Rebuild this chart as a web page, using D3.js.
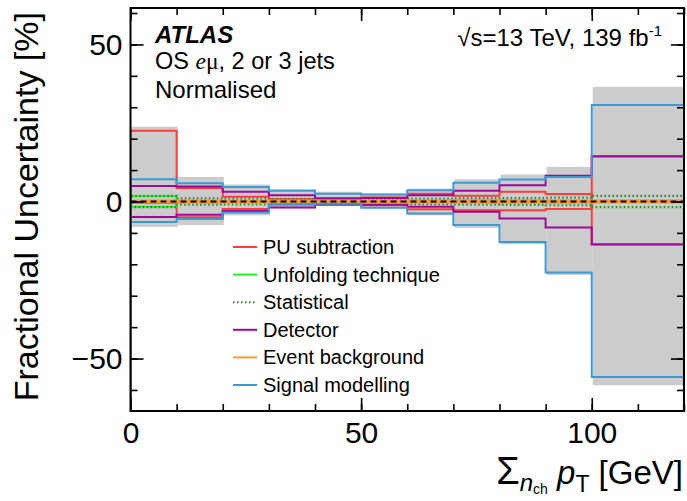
<!DOCTYPE html>
<html>
<head>
<meta charset="utf-8">
<script src="https://cdn.jsdelivr.net/npm/d3@7"></script>
<style>
  html, body { margin: 0; padding: 0; background: #fff; }
  svg { display: block; font-family: "Liberation Sans", Arial, Helvetica, sans-serif; }
</style>
</head>
<body>
<svg id="chart" width="687" height="501"></svg>
<script>
// Bin edges of the charged-particle sum pT distribution [GeV]
const binEdges = [0, 10, 20, 30, 40, 50, 60, 70, 80, 90, 100, 120];

// Total uncertainty band [%]
const totalUp   = [23.8, 7.8, 5.4, 3.9, 3.1, 2.5, 4.1, 7.1, 8.6, 11.0, 36.5];
const totalDown = [-8.1, -7.5, -4.4, -2.2, -1.0, -2.2, -4.4, -8.4, -13.6, -23.4, -58.5];

// Individual components, up / down variations [%]
const puUp        = [22.5, 4.3, 1.5, 0.8, 0.5, 1.3, 2.5, 1.8, 3.1, 2.4, -13.6];
const puDown      = [-0.5, -5.0, -2.4, -0.8, -0.5, -1.2, -2.5, -2.8, -2.8, -2.4, 14.3];
const unfoldUp    = [1.7, 0.3, 0.2, 0.2, 0.2, 0.2, 0.3, 0.3, 0.3, 0.3, 0.2];
const unfoldDown  = [-1.7, -0.3, -0.2, -0.2, -0.2, -0.2, -0.3, -0.3, -0.3, -0.3, -0.2];
const statUp      = [1.8, 1.0, 0.9, 0.8, 0.7, 0.7, 0.9, 1.0, 1.1, 1.2, 1.8];
const statDown    = [-1.8, -1.0, -0.9, -0.8, -0.7, -0.7, -0.9, -1.0, -1.1, -1.2, -1.8];
const detUp       = [4.9, 4.8, 3.1, 2.0, 1.0, 1.1, 2.0, 3.4, 5.2, 8.2, 14.4];
const detDown     = [-4.9, -4.2, -3.0, -1.9, -1.0, -1.0, -1.7, -3.3, -5.4, -8.3, -13.7];
const bkgUp       = [0.3, 0.3, 0.3, 0.3, 0.3, 0.3, 0.3, 0.3, 0.3, 0.3, 0.3];
const bkgDown     = [-0.3, -0.3, -0.3, -0.3, -0.3, -0.3, -0.3, -0.3, -0.3, -0.3, -0.3];
const sigUp       = [7.1, 5.8, 4.6, 3.4, 2.5, 2.2, 3.6, 6.0, 7.0, 7.8, 30.7];
const sigDown     = [-6.5, -5.6, -3.5, -1.0, -0.7, -2.0, -3.8, -7.5, -12.9, -22.6, -55.9];

// Axis ticks
const xMajorTicks = [0, 50, 100];
const yMajorTicks = [-50, 0, 50];

const legendEntries = [
  { label: "PU subtraction",      color: "#ff3b3b", dash: null },
  { label: "Unfolding technique", color: "#22ee22", dash: null },
  { label: "Statistical",         color: "#1f8f1f", dash: "1.5,2.5" },
  { label: "Detector",            color: "#9c0a9c", dash: null },
  { label: "Event background",    color: "#ff9a33", dash: null },
  { label: "Signal modelling",    color: "#3a9ad6", dash: null }
];

const plot = { left: 130.5, right: 684, top: 8, bottom: 411 };
const yMin = -66.7, yMax = 61.6;

const svg = d3.select("#chart");
const x = d3.scaleLinear().domain([0, 120]).range([plot.left, plot.right]);
const y = d3.scaleLinear().domain([yMin, yMax]).range([plot.bottom, plot.top]);

svg.append("defs").append("clipPath").attr("id", "plotClip")
  .append("rect")
  .attr("x", plot.left).attr("y", plot.top)
  .attr("width", plot.right - plot.left).attr("height", plot.bottom - plot.top);

const g = svg.append("g").attr("clip-path", "url(#plotClip)");

// Total uncertainty band as grey boxes per bin
const bins = totalUp.map((u, i) => ({ lo: binEdges[i], hi: binEdges[i + 1], up: u, down: totalDown[i] }));
g.append("g").selectAll("rect").data(bins).join("rect")
  .attr("x", d => x(d.lo) + 1)
  .attr("y", d => y(d.up))
  .attr("width", d => x(d.hi) - x(d.lo))
  .attr("height", d => y(d.down) - y(d.up))
  .attr("fill", "#cccccc");

// Histogram outline drawn from the axis minimum, across all bins, back to the minimum
function stepPoints(vals) {
  const pts = [[binEdges[0], yMin]];
  vals.forEach((v, i) => { pts.push([binEdges[i], v]); pts.push([binEdges[i + 1], v]); });
  pts.push([binEdges[binEdges.length - 1], yMin]);
  return pts;
}
const line = d3.line().x(d => x(d[0])).y(d => y(d[1]));

function drawHist(vals, color, width, dash) {
  g.append("path")
    .attr("d", line(stepPoints(vals)))
    .attr("fill", "none")
    .attr("stroke", color)
    .attr("stroke-width", width)
    .attr("stroke-dasharray", dash)
    .attr("stroke-linejoin", "miter");
}

const series = [
  [puUp, puDown, 0],
  [unfoldUp, unfoldDown, 1],
  [statUp, statDown, 2],
  [detUp, detDown, 3],
  [bkgUp, bkgDown, 4],
  [sigUp, sigDown, 5]
];
series.forEach(([up, down, k]) => {
  const e = legendEntries[k];
  const w = k === 2 ? 2.2 : 2;
  drawHist(up, e.color, w, e.dash);
  drawHist(down, e.color, w, e.dash);
});

// Nominal reference line at zero
g.append("line")
  .attr("x1", x(0)).attr("x2", x(120))
  .attr("y1", y(0)).attr("y2", y(0))
  .attr("stroke", "#000").attr("stroke-width", 2.2)
  .attr("stroke-dasharray", "6,4");

// Axes with ticks on all four sides pointing inward
const fmt = d3.format("d");
const tickFont = "30px";

function styleAxis(sel) {
  sel.select(".domain").remove();
  sel.selectAll(".tick line").attr("stroke", "#000").attr("stroke-width", 1.6);
  sel.selectAll("text").attr("font-size", tickFont)
    .attr("font-family", "'Liberation Sans', Arial, sans-serif").attr("fill", "#000");
}

const xMinor = d3.range(0, 121, 10);
const yMinor = d3.range(-60, 61, 10);

// bottom
svg.append("g").attr("transform", `translate(0,${plot.bottom})`)
  .call(d3.axisBottom(x).tickValues(xMinor).tickSize(-7).tickFormat(""))
  .call(styleAxis);
svg.append("g").attr("transform", `translate(0,${plot.bottom})`)
  .call(d3.axisBottom(x).tickValues(xMajorTicks).tickSize(-13).tickPadding(11).tickFormat(fmt))
  .call(styleAxis)
  .call(s => s.selectAll("text").attr("dy", "0.71em"));
// top
svg.append("g").attr("transform", `translate(0,${plot.top})`)
  .call(d3.axisTop(x).tickValues(xMinor).tickSize(-7).tickFormat(""))
  .call(styleAxis);
svg.append("g").attr("transform", `translate(0,${plot.top})`)
  .call(d3.axisTop(x).tickValues(xMajorTicks).tickSize(-13).tickFormat(""))
  .call(styleAxis);
// left
svg.append("g").attr("transform", `translate(${plot.left},0)`)
  .call(d3.axisLeft(y).tickValues(yMinor).tickSize(-7).tickFormat(""))
  .call(styleAxis);
svg.append("g").attr("transform", `translate(${plot.left},0)`)
  .call(d3.axisLeft(y).tickValues(yMajorTicks).tickSize(-13).tickPadding(8).tickFormat(fmt))
  .call(styleAxis);
// right
svg.append("g").attr("transform", `translate(${plot.right},0)`)
  .call(d3.axisRight(y).tickValues(yMinor).tickSize(-7).tickFormat(""))
  .call(styleAxis);
svg.append("g").attr("transform", `translate(${plot.right},0)`)
  .call(d3.axisRight(y).tickValues(yMajorTicks).tickSize(-13).tickFormat(""))
  .call(styleAxis);

// Frame
svg.append("rect")
  .attr("x", plot.left).attr("y", plot.top)
  .attr("width", plot.right - plot.left).attr("height", plot.bottom - plot.top)
  .attr("fill", "none").attr("stroke", "#000").attr("stroke-width", 2);

// Axis titles
svg.append("text")
  .attr("transform", `translate(38,${plot.top + 4}) rotate(-90)`)
  .attr("text-anchor", "end")
  .attr("font-size", "34px")
  .text("Fractional Uncertainty [%]");

const xt = svg.append("text")
  .attr("x", 683).attr("y", 484)
  .attr("text-anchor", "end")
  .attr("font-size", "33px");
xt.append("tspan").attr("font-size", "38px").text("Σ");
xt.append("tspan").attr("font-size", "24px").attr("font-style", "italic").attr("dy", 7).text("n");
xt.append("tspan").attr("font-size", "14px").attr("dy", 3).text("ch");
xt.append("tspan").attr("dy", -10).text(" ");
xt.append("tspan").attr("font-style", "italic").text("p");
xt.append("tspan").attr("font-size", "23px").attr("dy", 8).text("T");
xt.append("tspan").attr("dy", -8).text(" [GeV]");

// Labels inside the frame
svg.append("text")
  .attr("x", 155).attr("y", 43)
  .attr("font-size", "24px").attr("font-weight", "bold").attr("font-style", "italic")
  .text("ATLAS");

const os = svg.append("text").attr("x", 155).attr("y", 69).attr("font-size", "23.5px");
os.append("tspan").text("OS ");
os.append("tspan").attr("font-family", "'Liberation Serif', 'Times New Roman', serif")
  .attr("font-style", "italic").text("e");
os.append("tspan").attr("font-family", "'Liberation Serif', 'Times New Roman', serif").text("μ");
os.append("tspan").text(", 2 or 3 jets");

svg.append("text").attr("x", 155).attr("y", 98).attr("font-size", "24px").text("Normalised");

const en = svg.append("text").attr("x", 662).attr("y", 46)
  .attr("text-anchor", "end").attr("font-size", "24px");
en.append("tspan").text("√s=13 TeV, 139 fb");
en.append("tspan").attr("font-size", "15px").attr("dy", -10).text("-1");

// Legend
const legend = svg.append("g");
const rowH = 27.6, legX = 233, legY = 247;
legendEntries.forEach((e, i) => {
  const ly = legY + i * rowH;
  legend.append("line")
    .attr("x1", legX).attr("x2", legX + 24)
    .attr("y1", ly).attr("y2", ly)
    .attr("stroke", e.color).attr("stroke-width", 2)
    .attr("stroke-dasharray", e.dash);
  legend.append("text")
    .attr("x", legX + 30).attr("y", ly + 7)
    .attr("font-size", "20px")
    .text(e.label);
});
</script>
</body>
</html>
